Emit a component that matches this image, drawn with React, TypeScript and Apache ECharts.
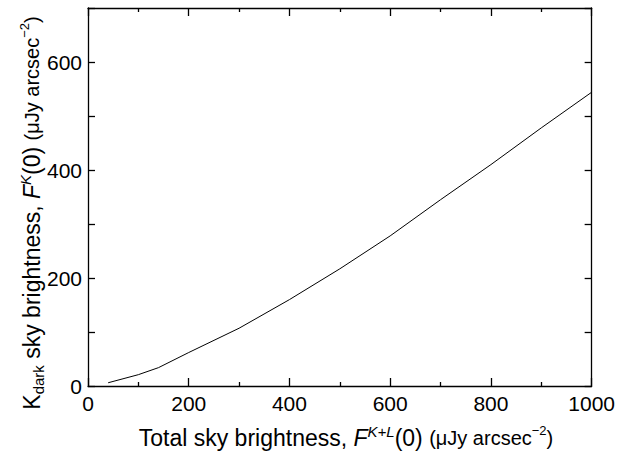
import React, { useEffect, useRef } from "react";
import * as echarts from "echarts";

const totalBrightness = [40, 100, 140, 200, 300, 400, 500, 600, 700, 800, 900, 1000];
const kDarkBrightness = [6, 21, 34, 62, 107, 160, 217, 278, 345, 410, 478, 544];
const xTicks = [0, 200, 400, 600, 800, 1000];
const yTicks = [0, 200, 400, 600];

const FONT = "'Liberation Sans', Arial, Helvetica, sans-serif";

export default function App() {
  const ref = useRef<HTMLDivElement>(null);
  useEffect(() => {
    if (!ref.current) return;
    const chart = echarts.init(ref.current, undefined, { renderer: "svg" });
    const axisLine = { show: true, onZero: false, lineStyle: { color: "#000", width: 1.3 } };
    const tickStyle = { color: "#000", width: 1.3 };
    const rich = {
      m: { fontSize: 23, fontFamily: FONT, color: "#000", lineHeight: 28 },
      i: { fontSize: 23, fontFamily: FONT, fontStyle: "italic", color: "#000", lineHeight: 28 },
      sup: { fontSize: 15, fontFamily: FONT, fontStyle: "italic", color: "#000", lineHeight: 12, verticalAlign: "top" },
      sub: { fontSize: 15, fontFamily: FONT, color: "#000", lineHeight: 12, verticalAlign: "bottom" },
      u: { fontSize: 20, fontFamily: FONT, color: "#000", lineHeight: 28 },
      usup: { fontSize: 13, fontFamily: FONT, color: "#000", lineHeight: 12, verticalAlign: "top" },
    };
    chart.setOption({
      animation: false,
      backgroundColor: "#fff",
      grid: { left: 88, right: 26, top: 8, bottom: 66, containLabel: false },
      xAxis: [
        {
          type: "value",
          min: 0,
          max: 1000,
          interval: 200,
          position: "bottom",
          axisLine,
          axisTick: { show: true, inside: true, length: 8, lineStyle: tickStyle },
          minorTick: { show: true, splitNumber: 2, length: 4, lineStyle: tickStyle },
          axisLabel: {
            color: "#000",
            fontSize: 21,
            fontFamily: FONT,
            margin: 7,
            formatter: (v: number) => (xTicks.includes(v) ? String(v) : ""),
          },
          splitLine: { show: false },
        },
        {
          type: "value",
          min: 0,
          max: 1000,
          interval: 200,
          position: "top",
          axisLine,
          axisTick: { show: true, inside: true, length: 8, lineStyle: tickStyle },
          minorTick: { show: true, splitNumber: 2, length: 4, lineStyle: tickStyle },
          axisLabel: { show: false },
          splitLine: { show: false },
        },
      ],
      yAxis: [
        {
          type: "value",
          min: 0,
          max: 700,
          interval: 100,
          position: "left",
          axisLine,
          axisTick: { show: true, inside: true, length: 7, lineStyle: tickStyle },
          axisLabel: {
            color: "#000",
            fontSize: 21,
            fontFamily: FONT,
            margin: 6,
            formatter: (v: number) => (yTicks.includes(v) ? String(v) : ""),
          },
          splitLine: { show: false },
        },
        {
          type: "value",
          min: 0,
          max: 700,
          interval: 100,
          position: "right",
          axisLine,
          axisTick: { show: true, inside: true, length: 7, lineStyle: tickStyle },
          axisLabel: { show: false },
          splitLine: { show: false },
        },
      ],
      series: [
        {
          type: "line",
          data: totalBrightness.map((x, k) => [x, kDarkBrightness[k]]),
          showSymbol: false,
          symbol: "none",
          lineStyle: { color: "#000", width: 1 },
          xAxisIndex: 0,
          yAxisIndex: 0,
        },
      ],
      graphic: [
        {
          type: "text",
          x: 346,
          y: 438,
          style: {
            text: "{m|Total sky brightness, }{i|F}{sup|K+L}{m|(0) }{u|(\u03bcJy arcsec}{usup|\u22122}{u|)}",
            rich,
            align: "center",
            verticalAlign: "middle",
          },
        },
        {
          type: "text",
          x: 32,
          y: 213,
          rotation: Math.PI / 2,
          style: {
            text: "{m|K}{sub|dark}{m| sky brightness, }{i|F}{sup|K}{m|(0) }{u|(\u03bcJy arcsec}{usup|\u22122}{u|)}",
            rich,
            align: "center",
            verticalAlign: "middle",
          },
        },
      ],
    });
    return () => chart.dispose();
  }, []);
  return (
    <div
      ref={ref}
      style={{ position: "fixed", left: 0, top: 0, width: 618, height: 452, background: "#fff" }}
    />
  );
}
